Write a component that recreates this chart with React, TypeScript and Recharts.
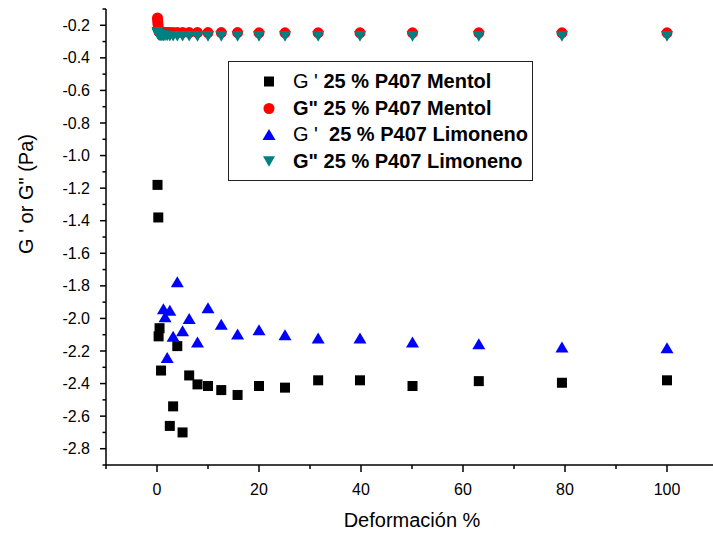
import React from "react";
import { ScatterChart, Scatter, XAxis, YAxis, Label } from "recharts";

// Strain sweep (Deformación %), logarithmic steps
const strainSteps = [
  0.1, 0.126, 0.158, 0.2, 0.251, 0.316, 0.398, 0.501, 0.631, 0.794, 1, 1.26, 1.58, 2, 2.51, 3.16,
  3.98, 5.01, 6.31, 7.94, 10, 12.6, 15.8, 20, 25.1, 31.6, 39.8, 50.1, 63.1, 79.4, 100,
];

// G' 25 % P407 Mentol
const mentolStorageX = [
  0.1, 0.251, 0.316, 0.501, 0.794, 2.51, 3.16, 3.98, 5.01, 6.31, 7.94, 10, 12.6, 15.8, 20, 25.1,
  31.6, 39.8, 50.1, 63.1, 79.4, 100,
];
const mentolStorage = [
  -1.18, -1.38, -2.11, -2.06, -2.32, -2.66, -2.54, -2.17, -2.7, -2.35, -2.405, -2.415, -2.44,
  -2.47, -2.415, -2.425, -2.38, -2.38, -2.415, -2.385, -2.395, -2.38,
];

// G" 25 % P407 Mentol
const mentolLoss = [
  -0.155, -0.165, -0.18, -0.195, -0.215, -0.23, -0.24, -0.242, -0.243, -0.244, -0.244, -0.245,
  -0.245, -0.245, -0.245, -0.245, -0.245, -0.245, -0.245, -0.245, -0.245, -0.245, -0.245, -0.246,
  -0.246, -0.246, -0.246, -0.246, -0.246, -0.246, -0.246,
];

// G' 25 % P407 Limoneno
const limonenoStorageX = [
  1.26, 1.58, 2, 2.51, 3.16, 3.98, 5.01, 6.31, 7.94, 10, 12.6, 15.8, 20, 25.1, 31.6, 39.8, 50.1,
  63.1, 79.4, 100,
];
const limonenoStorage = [
  -1.94, -1.99, -2.24, -1.95, -2.11, -1.775, -2.075, -2.0, -2.145, -1.935, -2.035, -2.095, -2.07,
  -2.1, -2.12, -2.12, -2.145, -2.155, -2.175, -2.18,
];

// G" 25 % P407 Limoneno
const limonenoLoss = [
  -0.243, -0.248, -0.252, -0.255, -0.258, -0.26, -0.262, -0.263, -0.264, -0.265, -0.265, -0.266,
  -0.266, -0.266, -0.267, -0.267, -0.267, -0.267, -0.267, -0.268, -0.268, -0.268, -0.268, -0.268,
  -0.268, -0.268, -0.268, -0.268, -0.268, -0.268, -0.268,
];

const xTicks = [-10, 0, 10, 20, 30, 40, 50, 60, 70, 80, 90, 100, 110];
const yTicks = [
  -0.1, -0.2, -0.3, -0.4, -0.5, -0.6, -0.7, -0.8, -0.9, -1.0, -1.1, -1.2, -1.3, -1.4, -1.5, -1.6,
  -1.7, -1.8, -1.9, -2.0, -2.1, -2.2, -2.3, -2.4, -2.5, -2.6, -2.7, -2.8, -2.9,
];

const legendRows = [
  { plain: "G '", bold: " 25 % P407 Mentol", color: "#000000", kind: "square" },
  { plain: "", bold: 'G" 25 % P407 Mentol', color: "#ff0000", kind: "circle" },
  { plain: "G '", bold: "  25 % P407 Limoneno", color: "#0000ff", kind: "up" },
  { plain: "", bold: 'G" 25 % P407 Limoneno', color: "#008080", kind: "down" },
];

const FONT = "'Liberation Sans', Arial, Helvetica, sans-serif";

const zip = (xs: number[], ys: number[]) => xs.map((x, i) => ({ x, y: ys[i] }));

const mentolStorageData = zip(mentolStorageX, mentolStorage);
const mentolLossData = zip(strainSteps, mentolLoss);
const limonenoStorageData = zip(limonenoStorageX, limonenoStorage);
const limonenoLossData = zip(strainSteps, limonenoLoss);

function Marker({ kind, cx, cy, color }: { kind: string; cx: number; cy: number; color: string }) {
  if (kind === "square") {
    return <rect x={cx - 5} y={cy - 5} width={10} height={10} fill={color} />;
  }
  if (kind === "circle") {
    return <circle cx={cx} cy={cy} r={5.5} fill={color} />;
  }
  if (kind === "up") {
    return (
      <polygon
        points={`${cx},${cy - 5.5} ${cx + 6.5},${cy + 5.5} ${cx - 6.5},${cy + 5.5}`}
        fill={color}
      />
    );
  }
  return (
    <polygon
      points={`${cx - 6},${cy - 5.3} ${cx + 6},${cy - 5.3} ${cx},${cy + 5.3}`}
      fill={color}
    />
  );
}

const shapeFor = (kind: string, color: string) => (p: any) =>
  p.cx == null || p.cy == null ? <g /> : <Marker kind={kind} cx={p.cx} cy={p.cy} color={color} />;

function YTick({ x, y, payload }: any) {
  const v = payload.value as number;
  const major = Math.round(v * 10) % 2 === 0;
  return (
    <g>
      <line x1={x - (major ? 6 : 3.5)} x2={x} y1={y} y2={y} stroke="#000" strokeWidth={1.5} />
      {major && (
        <text
          x={x - 16}
          y={y + 5.5}
          textAnchor="end"
          fontFamily={FONT}
          fontSize={16}
          fill="#000"
        >
          {v.toFixed(1)}
        </text>
      )}
    </g>
  );
}

function XTick({ x, y, payload }: any) {
  const v = payload.value as number;
  const major = Math.round(v) % 20 === 0;
  return (
    <g>
      <line x1={x} x2={x} y1={y} y2={y + (major ? 7 : 4)} stroke="#000" strokeWidth={1.5} />
      {major && (
        <text x={x} y={y + 30} textAnchor="middle" fontFamily={FONT} fontSize={16} fill="#000">
          {String(v)}
        </text>
      )}
    </g>
  );
}

function LegendBox() {
  return (
    <div
      style={{
        position: "absolute",
        left: 228,
        top: 61,
        width: 305,
        height: 120,
        boxSizing: "border-box",
        border: "1.5px solid #222",
        background: "#fff",
        fontFamily: FONT,
        fontSize: 20,
        color: "#000",
      }}
    >
      {legendRows.map((row, i) => (
        <div
          key={i}
          style={{
            position: "absolute",
            left: 0,
            top: 6 + i * 26.7,
            height: 27,
            display: "flex",
            alignItems: "center",
            whiteSpace: "pre",
          }}
        >
          <svg width={64} height={27} style={{ display: "block" }}>
            <Marker kind={row.kind} cx={40} cy={13.5} color={row.color} />
          </svg>
          <span>{row.plain}</span>
          <span style={{ fontWeight: "bold" }}>{row.bold}</span>
        </div>
      ))}
    </div>
  );
}

export default function App() {
  return (
    <div
      style={{
        position: "absolute",
        left: 0,
        top: 0,
        width: 713,
        height: 534,
        overflow: "hidden",
        background: "#fff",
      }}
    >
      <ScatterChart
        width={720}
        height={534}
        margin={{ top: 9, right: 2, bottom: 29, left: 0 }}
      >
        <XAxis
          type="number"
          dataKey="x"
          domain={[-10, 110]}
          ticks={xTicks}
          interval={0}
          allowDataOverflow
          height={40}
          tickSize={0}
          tickMargin={0}
          tickLine={false}
          tick={<XTick />}
          axisLine={{ stroke: "#000", strokeWidth: 1.5 }}
        >
          <Label
            content={({ viewBox }: any) => (
              <text
                x={viewBox.x + viewBox.width / 2}
                y={527}
                textAnchor="middle"
                fontFamily={FONT}
                fontSize={20}
                fill="#000"
              >
                Deformación %
              </text>
            )}
          />
        </XAxis>
        <YAxis
          type="number"
          dataKey="y"
          domain={[-2.9, -0.1]}
          ticks={yTicks}
          interval={0}
          allowDataOverflow
          width={106}
          tickSize={0}
          tickMargin={0}
          tickLine={false}
          tick={<YTick />}
          axisLine={{ stroke: "#000", strokeWidth: 1.5 }}
        >
          <Label
            content={() => (
              <text
                x={0}
                y={0}
                transform="translate(33, 194) rotate(-90)"
                textAnchor="middle"
                fontFamily={FONT}
                fontSize={20}
                fill="#000"
              >
                G ' or G" (Pa)
              </text>
            )}
          />
        </YAxis>
        <Scatter
          name="G' 25 % P407 Mentol"
          data={mentolStorageData}
          shape={shapeFor("square", "#000000")}
          isAnimationActive={false}
        />
        <Scatter
          name='G" 25 % P407 Mentol'
          data={mentolLossData}
          shape={shapeFor("circle", "#ff0000")}
          isAnimationActive={false}
        />
        <Scatter
          name="G' 25 % P407 Limoneno"
          data={limonenoStorageData}
          shape={shapeFor("up", "#0000ff")}
          isAnimationActive={false}
        />
        <Scatter
          name='G" 25 % P407 Limoneno'
          data={limonenoLossData}
          shape={shapeFor("down", "#008080")}
          isAnimationActive={false}
        />
      </ScatterChart>
      <LegendBox />
    </div>
  );
}
